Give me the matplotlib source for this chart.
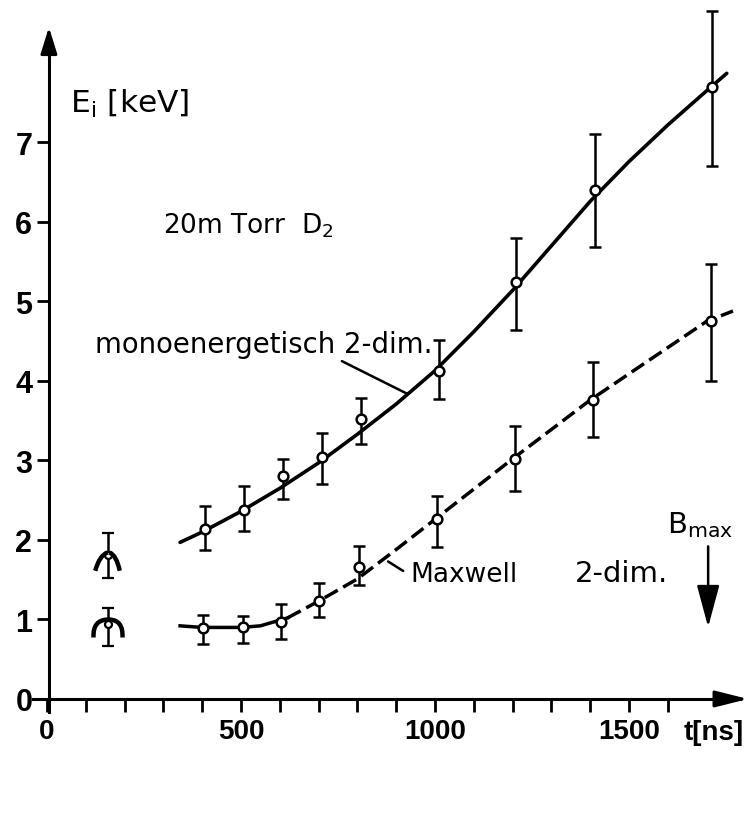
import matplotlib.pyplot as plt
import numpy as np
from matplotlib.path import Path

# measured points (t in ns, E_i in keV) with error bar ends
mono_t = [408, 508, 607, 708, 810, 1010, 1210, 1413, 1715]
mono_E = [2.14, 2.38, 2.81, 3.04, 3.52, 4.12, 5.24, 6.40, 7.70]
mono_hi = [2.43, 2.68, 3.02, 3.35, 3.78, 4.52, 5.80, 7.11, 8.66]
mono_lo = [1.87, 2.11, 2.52, 2.70, 3.21, 3.77, 4.64, 5.69, 6.71]

maxw_t = [402, 505, 603, 701, 804, 1005, 1206, 1407, 1711]
maxw_E = [0.89, 0.91, 0.97, 1.23, 1.66, 2.26, 3.02, 3.76, 4.75]
maxw_hi = [1.06, 1.04, 1.19, 1.46, 1.93, 2.55, 3.43, 4.24, 5.47]
maxw_lo = [0.69, 0.70, 0.75, 1.03, 1.43, 1.91, 2.61, 3.29, 4.00]

# the two early points drawn with special symbols
early_t = [158, 157]
early_E = [1.81, 0.94]
early_hi = [2.09, 1.14]
early_lo = [1.52, 0.67]

# hand drawn curves
mono_fit_t = [343, 400, 500, 600, 700, 800, 900, 1000, 1100, 1200, 1300, 1400, 1500, 1600, 1700, 1752]
mono_fit_E = [1.97, 2.10, 2.36, 2.65, 2.97, 3.33, 3.71, 4.13, 4.62, 5.14, 5.70, 6.26, 6.76, 7.22, 7.65, 7.87]

maxw_solid_t = [343, 400, 500, 550, 620]
maxw_solid_E = [0.92, 0.90, 0.90, 0.92, 1.02]
maxw_dash_t = [620, 700, 800, 900, 1000, 1100, 1200, 1300, 1400, 1500, 1600, 1700, 1768]
maxw_dash_E = [1.02, 1.23, 1.51, 1.88, 2.26, 2.64, 3.02, 3.39, 3.76, 4.09, 4.42, 4.75, 4.88]

x_major = [0, 500, 1000, 1500]
x_labels = ['0', '500', '1000', '1500']
x_minor = list(range(100, 1700, 100))
y_ticks = [0, 1, 2, 3, 4, 5, 6, 7]

plt.rcParams['font.family'] = 'DejaVu Sans'
tick_font = dict(family='Liberation Sans', weight='bold')

fig = plt.figure(figsize=(7.53, 8.29), dpi=100)
ax = fig.add_axes([0, 0, 1, 1])
ax.set_xlim(-121.1, 1819.6)
ax.set_ylim(-1.623, 8.805)

# axes drawn like the hand drawing: crossing at the origin, with arrow heads
for s in ['top', 'right']:
    ax.spines[s].set_visible(False)
ax.spines['left'].set_position(('data', 5))
ax.spines['bottom'].set_position(('data', 0))
ax.spines['left'].set_bounds(-0.17, 8.2)
ax.spines['bottom'].set_bounds(-36, 1785)
ax.spines['left'].set_linewidth(2.2)
ax.spines['bottom'].set_linewidth(2.2)

ax.annotate('', xy=(1807, 0), xytext=(1760, 0),
            arrowprops=dict(arrowstyle='-|>,head_length=1.0,head_width=0.25',
                            mutation_scale=20, lw=2.2, color='k', shrinkA=0, shrinkB=0))
ax.annotate('', xy=(5, 8.45), xytext=(5, 8.1),
            arrowprops=dict(arrowstyle='-|>,head_length=0.8,head_width=0.25',
                            mutation_scale=20, lw=2.2, color='k', shrinkA=0, shrinkB=0))

ax.set_xticks(x_major)
ax.set_xticks(x_minor, minor=True)
ax.set_xticklabels(x_labels, fontsize=20, **tick_font)
ax.set_yticks(y_ticks)
ax.set_yticklabels([str(v) for v in y_ticks], fontsize=22, **tick_font)
ax.tick_params(axis='x', which='both', direction='out', length=9, width=2, pad=5)
ax.tick_params(axis='y', direction='out', length=9, width=2, pad=3)

# curves
ax.plot(mono_fit_t, mono_fit_E, color='k', lw=2.6, solid_capstyle='round',
        solid_joinstyle='round', zorder=2)
ax.plot(maxw_solid_t, maxw_solid_E, color='k', lw=2.5, solid_joinstyle='round', zorder=2)
ax.plot(maxw_dash_t, maxw_dash_E, color='k', lw=2.5, dashes=(4.3, 1.8), zorder=2)

# data points with error bars
for t, E, hi, lo in [(mono_t, mono_E, mono_hi, mono_lo), (maxw_t, maxw_E, maxw_hi, maxw_lo)]:
    E = np.array(E)
    err = [E - np.array(lo), np.array(hi) - E]
    ax.errorbar(t, E, yerr=err, fmt='o', ms=7, mfc='white', mec='k', mew=1.8,
                ecolor='k', elinewidth=1.8, capsize=4, capthick=1.8, zorder=3)

E = np.array(early_E)
ax.errorbar(early_t, E, yerr=[E - np.array(early_lo), np.array(early_hi) - E], fmt='o',
            ms=5, mfc='white', mec='k', mew=1.6, ecolor='k', elinewidth=1.8,
            capsize=4, capthick=1.8, zorder=3)

C = Path.CURVE3
M = Path.MOVETO
upper_sym = Path([(-1, 3), (-9, 0), (-13, -15), (1, 3), (8, 0), (11, -15)], [M, C, C, M, C, C])
lower_sym = Path([(0, 5), (-16, 5), (-15, -13), (0, 5), (15, 5), (14, -13)], [M, C, C, M, C, C])
ax.plot(early_t[0], early_E[0], marker=upper_sym, ms=22, mew=3.2, mec='k',
        fillstyle='none', ls='none', zorder=4)
ax.plot(early_t[1], early_E[1], marker=lower_sym, ms=23, mew=3.2, mec='k',
        fillstyle='none', ls='none', zorder=4)

# labels
ax.text(59, 7.38, 'E$_\\mathregular{i}$ [keV]', fontsize=22.5)
ax.text(299, 5.87, '20m Torr  D$_\\mathregular{2}$', fontsize=19)
ax.text(124, 4.36, 'monoenergetisch 2-dim.', fontsize=19.8)
ax.annotate('', xy=(928, 3.84), xytext=(760, 4.25),
            arrowprops=dict(arrowstyle='-', lw=1.8, color='k', shrinkA=0, shrinkB=0))
ax.text(936, 1.48, 'Maxwell', fontsize=19)
ax.annotate('', xy=(879, 1.73), xytext=(918, 1.61),
            arrowprops=dict(arrowstyle='-', lw=1.8, color='k', shrinkA=0, shrinkB=0))
ax.text(1361, 1.48, '2-dim.', fontsize=21)
ax.text(1598, 2.10, 'B$_\\mathregular{max}$', fontsize=21)
ax.annotate('', xy=(1704, 0.905), xytext=(1704, 1.92),
            arrowprops=dict(arrowstyle='-|>,head_length=1.3,head_width=0.35',
                            mutation_scale=20, lw=1.8, color='k', shrinkA=0, shrinkB=0))
ax.text(1642, -0.50, 't[ns]', fontsize=20, **tick_font)

fig.savefig('out.png', dpi=100)
